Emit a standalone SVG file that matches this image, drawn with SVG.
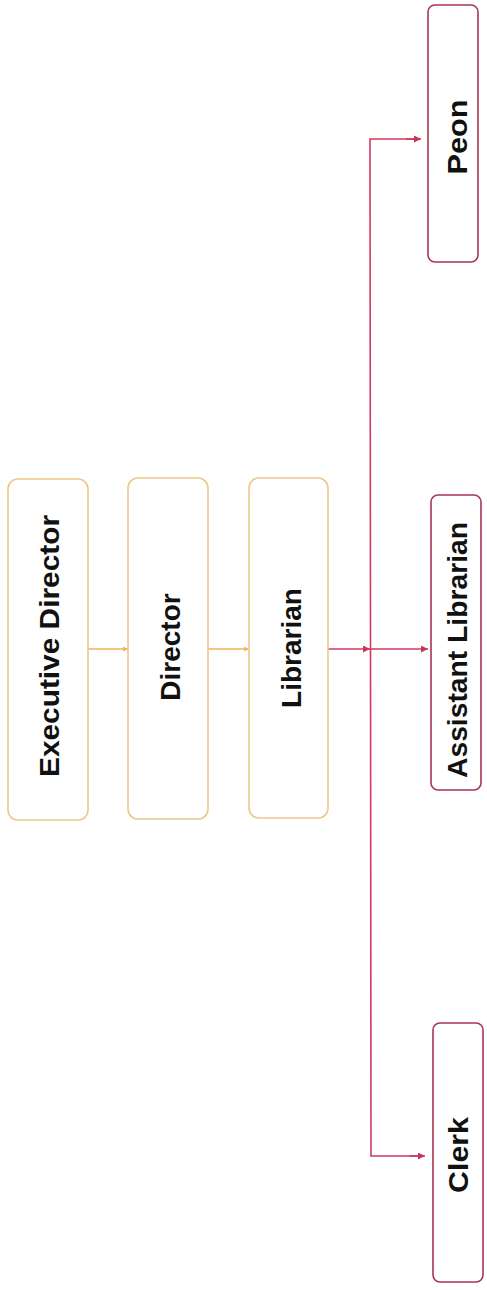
<svg xmlns="http://www.w3.org/2000/svg" width="487" height="1290" viewBox="0 0 487 1290">
<defs>
<style>
.box-o{fill:#ffffff;stroke:#efc68c;stroke-width:1.6}
.box-r{fill:#ffffff;stroke:#a9354f;stroke-width:1.6}
.lbl{font-family:"Liberation Sans",Arial,sans-serif;font-weight:bold;font-size:28px;fill:#111111;text-anchor:middle}
.c-o{stroke:#f0b35e;stroke-width:1.6;fill:none}
.c-r{stroke:#cf3a5e;stroke-width:1.6;fill:none}
</style>
<marker id="ah-o" viewBox="0 0 10 10" refX="10" refY="5" markerWidth="5" markerHeight="5" orient="auto" markerUnits="userSpaceOnUse">
<path d="M0,0 L10,5 L0,10 z" fill="#f0b35e"/>
</marker>
<marker id="ah-r" viewBox="0 0 10 10" refX="10" refY="5" markerWidth="7" markerHeight="7" orient="auto" markerUnits="userSpaceOnUse">
<path d="M0,0 L10,5 L0,10 z" fill="#c8365a"/>
</marker>
</defs>
<rect width="487" height="1290" fill="#ffffff"/>
<g id="connectors">
<line class="c-o" x1="88" y1="649" x2="128" y2="649" marker-end="url(#ah-o)"/>
<line class="c-o" x1="207" y1="649" x2="249" y2="649" marker-end="url(#ah-o)"/>
<line class="c-r" x1="327" y1="649" x2="370" y2="649" stroke-width="2.2" marker-end="url(#ah-r)"/>
<line class="c-r" x1="370" y1="649" x2="428" y2="649" stroke-width="2" marker-end="url(#ah-r)"/>
<polyline class="c-r" points="420,139 370,139 371,1156 424,1156" stroke="#b8375a"/>
<line class="c-r" x1="406" y1="139" x2="421" y2="139" marker-end="url(#ah-r)"/>
<line class="c-r" x1="410" y1="1156" x2="425" y2="1156" marker-end="url(#ah-r)"/>
</g>
<g id="executive-director">
<rect class="box-o" x="8" y="479" width="80" height="341" rx="10"/>
<text class="lbl" transform="translate(59,646) rotate(-90)" textLength="262" lengthAdjust="spacingAndGlyphs">Executive Director</text>
</g>
<g id="director">
<rect class="box-o" x="128" y="478" width="80" height="341" rx="10"/>
<text class="lbl" transform="translate(180,647) rotate(-90)">Director</text>
</g>
<g id="librarian">
<rect class="box-o" x="249" y="478" width="79" height="340" rx="10"/>
<text class="lbl" transform="translate(301,648) rotate(-90)">Librarian</text>
</g>
<g id="peon">
<rect class="box-r" x="428" y="5" width="50" height="257" rx="7"/>
<text class="lbl" transform="translate(467,137) rotate(-90)" textLength="75" lengthAdjust="spacingAndGlyphs">Peon</text>
</g>
<g id="assistant-librarian">
<rect class="box-r" x="431" y="495" width="50" height="295" rx="7"/>
<text class="lbl" transform="translate(467,650) rotate(-90)" textLength="256" lengthAdjust="spacingAndGlyphs">Assistant Librarian</text>
</g>
<g id="clerk">
<rect class="box-r" x="433" y="1023" width="50" height="259" rx="7"/>
<text class="lbl" transform="translate(468,1155) rotate(-90)" textLength="76" lengthAdjust="spacingAndGlyphs">Clerk</text>
</g>
</svg>
